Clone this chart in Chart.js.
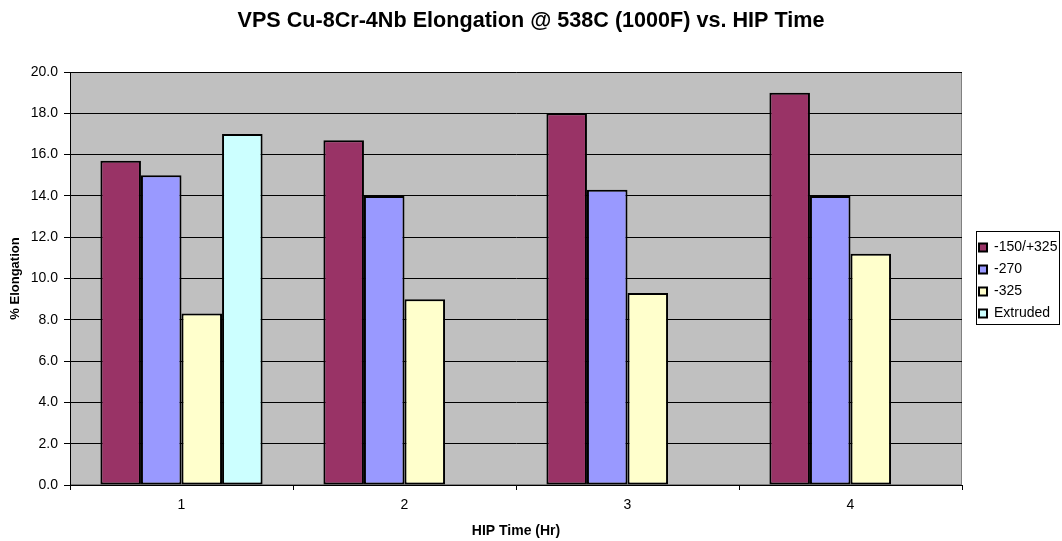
<!DOCTYPE html>
<html><head><meta charset="utf-8">
<script src="https://cdn.jsdelivr.net/npm/chart.js@4"></script>
<style>html,body{margin:0;padding:0;background:#fff;}</style>
</head><body>
<canvas id="c" width="1062" height="541"></canvas>
<script>
const categories = ['1', '2', '3', '4'];
const seriesNames = ['-150/+325', '-270', '-325', 'Extruded'];
const valsCoarse = [15.7, 16.7, 18.0, 19.0];   // -150/+325
const vals270 = [15.0, 14.0, 14.3, 14.0];      // -270
const vals325 = [8.3, 9.0, 9.3, 11.2];         // -325
const valsExtruded = [17.0, null, null, null]; // Extruded
const yTickValues = [0, 2, 4, 6, 8, 10, 12, 14, 16, 18, 20];
const seriesColors = ['#993366', '#9999FF', '#FFFFCC', '#CCFFFF'];

const FONT = '"Liberation Sans", Arial, Helvetica, sans-serif';
Chart.defaults.font.family = FONT;
Chart.defaults.color = '#000';

const LEGEND_W = 100;

const plotBg = {
  id: 'plotBg',
  beforeDraw(chart) {
    const {ctx, chartArea: a} = chart;
    ctx.save();
    ctx.fillStyle = '#C0C0C0';
    ctx.fillRect(a.left, a.top, a.width, a.height);
    ctx.strokeStyle = '#808080';
    ctx.lineWidth = 1;
    ctx.strokeRect(a.left + 0.5, a.top + 0.5, a.width - 1, a.height - 1);
    ctx.restore();
  }
};

const legendFix = {
  id: 'legendFix',
  beforeLayout(chart) {
    const lg = chart.legend;
    if (lg && !lg._wrappedFit) {
      const f = lg.fit;
      lg.fit = function () { f.call(this); this.width = LEGEND_W; };
      lg._wrappedFit = true;
    }
  },
  afterLayout(chart) {
    const lg = chart.legend;
    if (!lg) return;
    lg.left += 9; lg.right += 9;
    lg.top += 10; lg.bottom += 10;
  },
  afterDraw(chart) {
    const lg = chart.legend;
    if (!lg || !lg.legendHitBoxes || !lg.legendHitBoxes.length) return;
    const hb = lg.legendHitBoxes;
    const first = hb[0], last = hb[hb.length - 1];
    const l = Math.round(first.left) - 2.5;
    const t = Math.round(first.top) - 9.5;
    const r = l + 83;
    const b = Math.round(last.top + last.height) + 3.5;
    const ctx = chart.ctx;
    ctx.save();
    ctx.strokeStyle = '#000';
    ctx.lineWidth = 1;
    ctx.strokeRect(l, t, r - l, b - t);
    ctx.restore();
  }
};

const datasets = [valsCoarse, vals270, vals325, valsExtruded].map((d, i) => ({
  label: seriesNames[i],
  data: d,
  backgroundColor: seriesColors[i],
  borderColor: '#000',
  borderWidth: 2,
  borderSkipped: false,
  categoryPercentage: 4 / 5.5,
  barPercentage: 1
}));

new Chart(document.getElementById('c'), {
  type: 'bar',
  data: { labels: categories, datasets },
  plugins: [plotBg, legendFix],
  options: {
    responsive: false,
    devicePixelRatio: 1,
    animation: false,
    layout: { padding: 0 },
    plugins: {
      title: {
        display: true,
        text: 'VPS Cu-8Cr-4Nb Elongation @ 538C (1000F) vs. HIP Time',
        color: '#000',
        font: { family: FONT, size: 21.6, weight: 'bold' },
        padding: { top: 8, bottom: 38.08 }
      },
      legend: {
        display: true,
        position: 'right',
        align: 'center',
        labels: {
          color: '#000',
          font: { family: FONT, size: 14 },
          boxWidth: 8,
          boxHeight: 8,
          padding: 8
        }
      },
      tooltip: { enabled: false }
    },
    scales: {
      x: {
        afterFit(s) { s.height = 56; },
        grid: { drawOnChartArea: false, drawTicks: true, tickLength: 5, color: '#000', offset: true },
        border: { color: '#000' },
        ticks: { color: '#000', font: { family: FONT, size: 14 }, padding: 6.6 },
        title: {
          display: true, text: 'HIP Time (Hr)', color: '#000',
          font: { family: FONT, size: 14, weight: 'bold' },
          padding: { top: 0, bottom: 1.6 }
        }
      },
      y: {
        min: 0, max: 20,
        afterFit(s) { s.width = 70; },
        afterBuildTicks(s) { s.ticks = yTickValues.map(v => ({ value: v })); },
        grid: { color: '#000', lineWidth: 1, tickLength: 6, tickColor: '#000' },
        border: { color: '#000' },
        ticks: {
          color: '#000', font: { family: FONT, size: 14 }, padding: 6,
          callback: v => Number(v).toFixed(1)
        },
        title: {
          display: true, text: '% Elongation', color: '#000',
          font: { family: FONT, size: 13, weight: 'bold' },
          padding: { top: 8, bottom: 0 }
        }
      }
    }
  }
});
</script>
</body></html>
